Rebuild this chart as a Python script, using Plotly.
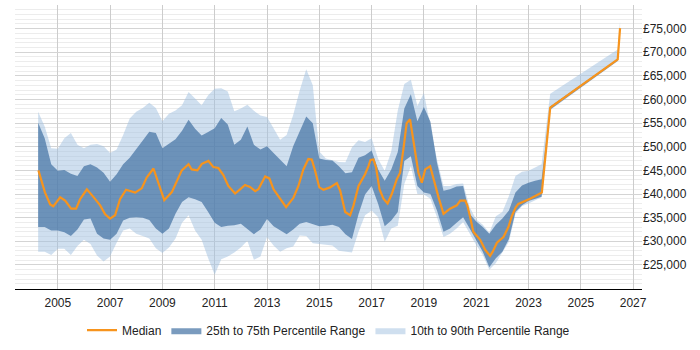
import plotly.graph_objects as go
from datetime import datetime, timedelta

# ---- data (decimal years -> values in GBP) ----
median_years = [2004.26, 2004.51, 2004.71, 2004.83, 2005.09, 2005.28, 2005.51, 2005.70, 2005.85,
                2006.11, 2006.36, 2006.62, 2006.81, 2007.00, 2007.19, 2007.38, 2007.61, 2007.96,
                2008.21, 2008.40, 2008.66, 2008.85, 2009.07, 2009.36, 2009.55, 2009.74, 2010.00,
                2010.12, 2010.34, 2010.51, 2010.76, 2010.95, 2011.14, 2011.33, 2011.52, 2011.78,
                2011.97, 2012.16, 2012.35, 2012.55, 2012.67, 2012.93, 2013.09, 2013.25, 2013.50,
                2013.73, 2014.01, 2014.20, 2014.39, 2014.58, 2014.71, 2014.84, 2015.00, 2015.16,
                2015.41, 2015.67, 2015.80, 2015.99, 2016.18, 2016.31, 2016.50, 2016.75, 2016.88,
                2016.96, 2017.07, 2017.17, 2017.30, 2017.45, 2017.61, 2017.77, 2017.96, 2018.09,
                2018.22, 2018.34, 2018.47, 2018.60, 2018.79, 2018.92, 2019.05, 2019.24, 2019.37,
                2019.56, 2019.75, 2020.00, 2020.26, 2020.39, 2020.58, 2020.66, 2020.77, 2020.89,
                2021.15, 2021.34, 2021.53, 2021.63, 2021.79, 2022.04, 2022.23, 2022.36, 2022.51,
                2022.61, 2023.06, 2023.51, 2023.83, 2026.41, 2026.50]
median_values = [45000, 40350, 37800, 37400, 39300, 38600, 36900, 36900, 38900,
                 41000, 39400, 37600, 35700, 34800, 35500, 38900, 40900, 40300,
                 41200, 43500, 45400, 42100, 38700, 40400, 42900, 45000, 46300,
                 45200, 45000, 46400, 47000, 45700, 45500, 44000, 41700, 40100,
                 41000, 41900, 41500, 40600, 41000, 43700, 43300, 41000, 39000,
                 37200, 39200, 41700, 45200, 47400, 47300, 44900, 41400, 40900,
                 41400, 42300, 40700, 36200, 35500, 37600, 41700, 44200, 45900,
                 47200, 47300, 45600, 41000, 39000, 38000, 40000, 43100, 44500,
                 49700, 55000, 55800, 51100, 44500, 42400, 45200, 45900, 43100,
                 39300, 35800, 36900, 37600, 38600, 38600, 37600, 35100, 32000,
                 30300, 28200, 26900, 27800, 29700, 30900, 33000, 35300, 37200,
                 37900, 39000, 40300, 58300, 68500, 75100]

band_years = [2004.25, 2004.50, 2004.75, 2005.00, 2005.25, 2005.50, 2005.75, 2006.00,
              2006.25, 2006.50, 2006.75, 2007.00, 2007.25, 2007.50, 2007.75, 2008.00,
              2008.25, 2008.50, 2008.75, 2009.00, 2009.25, 2009.50, 2009.75, 2010.00,
              2010.25, 2010.50, 2010.75, 2011.00, 2011.25, 2011.50, 2011.75, 2012.00,
              2012.25, 2012.50, 2012.75, 2013.00, 2013.25, 2013.50, 2013.75, 2014.00,
              2014.25, 2014.50, 2014.75, 2015.00, 2015.25, 2015.50, 2015.75, 2016.00,
              2016.25, 2016.50, 2016.75, 2017.00, 2017.25, 2017.50, 2017.75, 2018.00,
              2018.25, 2018.50, 2018.75, 2019.00, 2019.25, 2019.50, 2019.75, 2020.00,
              2020.25, 2020.50, 2020.75, 2021.00, 2021.25, 2021.50, 2021.75, 2022.00,
              2022.25, 2022.50, 2022.75, 2023.00, 2023.25, 2023.50, 2023.83, 2026.41,
              2026.50]

p90_values = [57400, 54300, 49700, 49600, 51800, 52900, 50400, 49700,
              50400, 50600, 50100, 48700, 49400, 52500, 56000, 57400,
              58200, 59300, 58200, 55400, 57000, 57700, 58800, 61600,
              60200, 58800, 60900, 62300, 62400, 61700, 57500, 58100,
              58900, 57600, 56600, 56300, 53900, 51500, 52500, 56700,
              61900, 66400, 63000, 49000, 47500, 47100, 46800, 46700,
              49900, 51400, 51000, 51800, 47400, 44900, 49000, 57700,
              63300, 64200, 58600, 61400, 54600, 47300, 41700, 41700,
              42100, 42200, 37200, 34600, 33500, 31800, 35300, 36200,
              39600, 43800, 44700, 44900, 45600, 46300, 61200, 70600,
              76500]

p75_values = [55100, 51800, 46300, 44900, 45100, 44300, 43800, 45900,
              46300, 45600, 44500, 42600, 44200, 46300, 47700, 49400,
              51300, 53200, 52900, 49700, 50600, 51600, 53400, 55700,
              53800, 52400, 53100, 53900, 56100, 54700, 50400, 51500,
              54300, 50400, 49400, 50100, 48700, 47300, 45900, 50100,
              53200, 56400, 55000, 47500, 47200, 47100, 45900, 44400,
              44600, 47700, 48200, 49200, 45200, 42800, 45200, 48900,
              58100, 61100, 55400, 58400, 55300, 46600, 40700, 41000,
              41600, 41700, 35800, 34200, 33000, 31600, 33500, 34800,
              36500, 40300, 41800, 42400, 42800, 43100, 58500, 68600,
              75100]

p25_values = [33000, 33000, 32300, 32300, 31900, 31100, 32500, 34600,
              34800, 31600, 30600, 30300, 31600, 34400, 35000, 35100,
              35000, 34500, 32700, 31600, 32700, 35800, 38300, 39300,
              38900, 38300, 36200, 33900, 33000, 33300, 33400, 33700,
              32600, 31500, 32500, 34700, 33200, 32300, 31500, 32500,
              33700, 34100, 33700, 33200, 33300, 33500, 33000, 31500,
              30500, 35700, 39900, 41700, 37900, 33200, 34400, 36200,
              47000, 48000, 41700, 40300, 40000, 36500, 32000, 32700,
              33900, 35100, 32700, 30100, 27800, 24500, 26400, 27800,
              30500, 36200, 37600, 38500, 39000, 39400, 57900, 68200,
              75100]

p10_values = [27800, 27800, 27100, 28400, 28400, 27100, 29000, 30300,
              29400, 27000, 25700, 26800, 29700, 32300, 32700, 31600,
              31100, 30600, 28500, 27500, 28700, 30600, 33900, 35500,
              32300, 30300, 26400, 22900, 26200, 26800, 27600, 28700,
              30100, 26100, 26800, 30900, 29100, 27800, 28500, 28900,
              31200, 31100, 29600, 29400, 29300, 29100, 28000, 27800,
              27600, 32000, 35500, 36500, 35100, 29900, 32700, 33300,
              42100, 45900, 40000, 39900, 39000, 35100, 30900, 31600,
              32700, 34100, 31600, 29200, 27100, 24000, 25400, 27700,
              29900, 35800, 37400, 38000, 38600, 39300, 57800, 68100,
              75100]

tick_values = [25000, 30000, 35000, 40000, 45000, 50000, 55000, 60000, 65000, 70000, 75000]
tick_labels = ["&#163;" + f"{v:,}" for v in tick_values]


def to_date(y):
    yr = int(y)
    return datetime(yr, 1, 1) + timedelta(days=(y - yr) * 365.25)


bx = [to_date(v) for v in band_years]
mx = [to_date(v) for v in median_years]

LIGHT = "rgba(160,192,224,0.5)"
DARK = "rgba(66,112,162,0.7)"
ORANGE = "#f7941d"
FONT = "Liberation Sans, Arial, sans-serif"

fig = go.Figure()
fig.add_trace(go.Scatter(x=bx, y=p10_values, mode="lines", line=dict(width=0),
                         showlegend=False, hoverinfo="skip"))
fig.add_trace(go.Scatter(x=bx, y=p90_values, mode="lines", line=dict(width=0),
                         fill="tonexty", fillcolor=LIGHT,
                         name="10th to 90th Percentile Range", legendrank=3))
fig.add_trace(go.Scatter(x=bx, y=p25_values, mode="lines", line=dict(width=0),
                         showlegend=False, hoverinfo="skip"))
fig.add_trace(go.Scatter(x=bx, y=p75_values, mode="lines", line=dict(width=0),
                         fill="tonexty", fillcolor=DARK,
                         name="25th to 75th Percentile Range", legendrank=2))
fig.add_trace(go.Scatter(x=mx, y=median_values, mode="lines",
                         line=dict(color=ORANGE, width=2.2),
                         name="Median", legendrank=1))

fig.update_layout(
    width=700, height=350,
    margin=dict(l=15, r=58, t=5, b=57),
    paper_bgcolor="white", plot_bgcolor="white",
    font=dict(family=FONT, size=12, color="#222222"),
    showlegend=True,
    legend=dict(orientation="h", x=0.5, xanchor="center", y=-0.145, yanchor="middle",
                font=dict(family=FONT, size=12, color="#222222"),
                traceorder="normal"),
)
fig.update_xaxes(
    type="date",
    range=[datetime(2003, 5, 14), datetime(2027, 5, 5)],
    tick0="2005-01-01", dtick="M24", tickformat="%Y",
    showgrid=True, gridcolor="#cccccc", gridwidth=1,
    showline=True, linecolor="#000000", linewidth=1,
    ticks="outside", ticklen=3, tickcolor="rgba(0,0,0,0)", zeroline=False,
    tickfont=dict(family=FONT, size=12, color="#222222"),
)
fig.update_yaxes(
    side="right",
    range=[19900, 80000],
    tickmode="array", tickvals=tick_values, ticktext=tick_labels,
    showgrid=True, gridcolor="#d4d4d4", gridwidth=1,
    minor=dict(dtick=1000, tick0=0, showgrid=True, gridcolor="#ececec", gridwidth=1),
    zeroline=False, showline=False, ticks="",
    tickfont=dict(family=FONT, size=12, color="#222222"),
)

fig.write_html("out.html")
